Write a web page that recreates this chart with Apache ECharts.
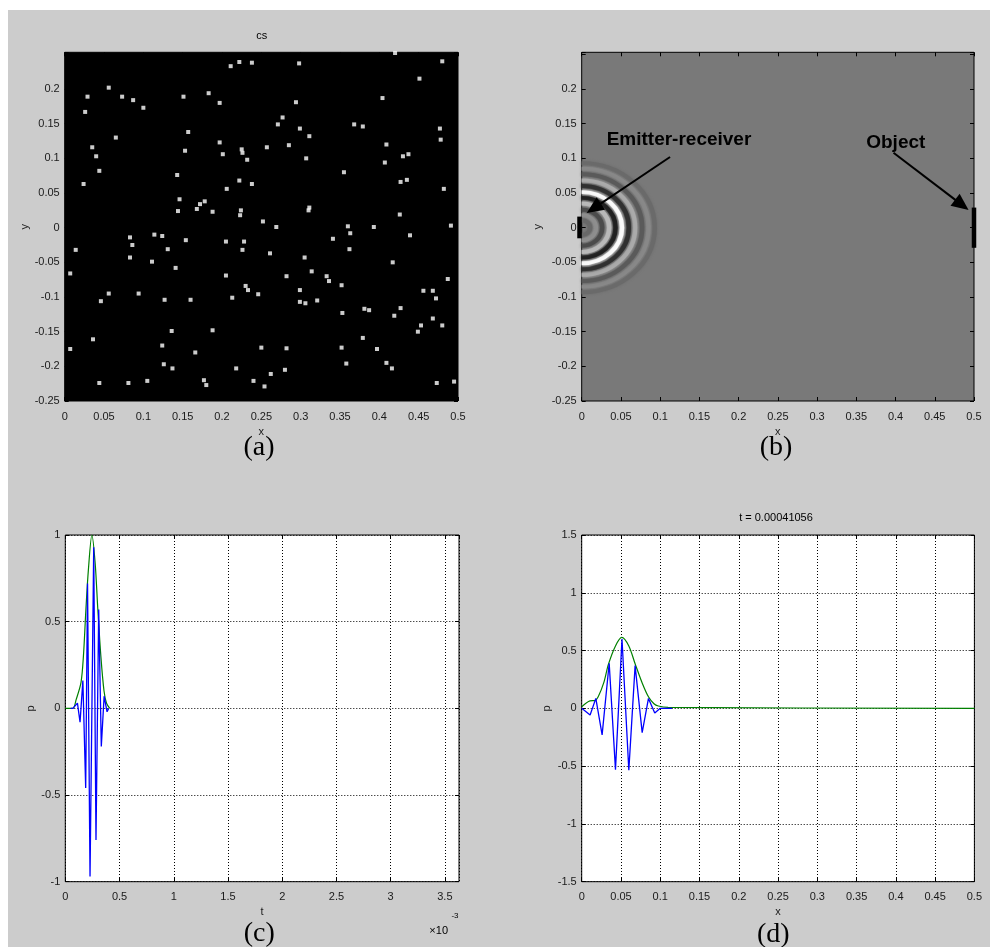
<!DOCTYPE html>
<html><head><meta charset="utf-8">
<script src="https://cdn.jsdelivr.net/npm/echarts@6/dist/echarts.min.js"></script>
<style>
html,body{margin:0;padding:0;background:#fff;}
#bg{position:absolute;left:8px;top:10px;width:982px;height:937px;background:#cccccc;}
#chart{position:absolute;left:0;top:0;width:990px;height:947px;}
</style></head><body><div id="bg"></div><div id="chart"></div>
<script>
// ---- (a) scatter "cs" ----
const scatterX = [
0.420,0.480,0.211,0.222,0.238,0.298,0.451,0.056,0.029,0.073,
0.087,0.151,0.183,0.197,0.294,0.100,0.404,0.026,0.277,0.271,
0.368,0.379,0.299,0.477,0.065,0.157,0.311,0.478,0.035,0.197,
0.257,0.285,0.409,0.225,0.226,0.153,0.040,0.201,0.232,0.307,
0.430,0.437,0.407,0.044,0.355,0.143,0.024,0.222,0.238,0.427,
0.435,0.206,0.482,0.146,0.172,0.178,0.168,0.144,0.188,0.224,
0.223,0.311,0.310,0.426,0.252,0.269,0.360,0.393,0.491,0.363,
0.114,0.124,0.083,0.154,0.341,0.439,0.205,0.228,0.086,0.014,
0.131,0.226,0.362,0.261,0.083,0.305,0.111,0.417,0.141,0.007,
0.314,0.205,0.282,0.333,0.336,0.487,0.230,0.233,0.352,0.299,
0.456,0.468,0.056,0.094,0.246,0.213,0.472,0.046,0.127,0.160,
0.299,0.306,0.321,0.381,0.387,0.427,0.353,0.419,0.136,0.188,
0.453,0.449,0.480,0.036,0.379,0.468,0.124,0.007,0.166,0.250,
0.282,0.352,0.397,0.126,0.137,0.218,0.280,0.358,0.409,0.416,
0.262,0.044,0.081,0.105,0.177,0.180,0.240,0.254,0.473,0.495];
const scatterY = [
0.252,0.240,0.233,0.239,0.238,0.237,0.215,0.202,0.189,0.189,
0.184,0.189,0.194,0.180,0.181,0.173,0.187,0.167,0.159,0.149,
0.149,0.146,0.143,0.143,0.130,0.138,0.132,0.127,0.116,0.123,
0.116,0.119,0.120,0.113,0.108,0.111,0.103,0.106,0.098,0.100,
0.103,0.106,0.094,0.082,0.080,0.076,0.063,0.068,0.063,0.066,
0.069,0.056,0.056,0.041,0.034,0.038,0.027,0.024,0.023,0.025,
0.018,0.029,0.025,0.019,0.009,0.001,0.002,0.001,0.003,-0.008,
-0.010,-0.012,-0.014,-0.018,-0.016,-0.011,-0.020,-0.020,-0.025,-0.032,
-0.031,-0.032,-0.031,-0.037,-0.043,-0.043,-0.049,-0.050,-0.058,-0.066,
-0.063,-0.069,-0.070,-0.070,-0.077,-0.074,-0.084,-0.090,-0.083,-0.090,
-0.091,-0.091,-0.095,-0.095,-0.096,-0.101,-0.102,-0.106,-0.104,-0.104,
-0.107,-0.109,-0.105,-0.117,-0.119,-0.116,-0.123,-0.127,-0.149,-0.148,
-0.141,-0.150,-0.141,-0.161,-0.159,-0.131,-0.170,-0.175,-0.180,-0.173,
-0.174,-0.173,-0.175,-0.197,-0.203,-0.203,-0.205,-0.196,-0.195,-0.203,
-0.211,-0.224,-0.224,-0.221,-0.220,-0.227,-0.221,-0.229,-0.224,-0.222];

// ---- (b) wave field rings (radius, gray level) and annotations ----
const ringRadius = [0.093,0.085,0.077,0.068,0.060,0.0513,0.043,0.035,0.026,0.018,0.0107];
const ringShade  = [106,136,90,170,48,250,32,185,75,142,104];
const barX  = [-0.0028, 0.5];
const barY0 = [-0.0153, -0.029];
const barY1 = [0.016, 0.029];
const annoText = ['Emitter-receiver', 'Object'];
const annoX = [0.124, 0.4003];
const annoY = [0.1266, 0.1227];
const arrowFrom = [[0.1126, 0.102], [0.3974, 0.1082]];
const arrowTo   = [[0.0064, 0.0212], [0.4931, 0.0255]];

// ---- (c) p(t), t in units of 1e-3 ----
const cBlueT = [0.05,0.07,0.085,0.112,0.136,0.162,0.188,0.205,0.228,0.262,0.283,0.308,0.332,0.358,0.385,0.40];
const cBlueP = [0,0,0.01,0.03,-0.08,0.16,-0.46,0.72,-0.97,0.93,-0.76,0.57,-0.22,0.07,-0.02,0];
const cGreenT = [0,0.07,0.1,0.145,0.167,0.19,0.213,0.245,0.275,0.3,0.328,0.357,0.38,0.41];
const cGreenP = [0,0,0.05,0.15,0.3,0.57,0.8,1.0,0.84,0.57,0.3,0.1,0.03,0];

// ---- (d) p(x) at t = 0.00041056 ----
const dBlueX = [0,0.0107,0.018,0.026,0.035,0.043,0.0513,0.060,0.068,0.077,0.085,0.093,0.1,0.115];
const dBlueP = [0,-0.057,0.086,-0.23,0.39,-0.53,0.60,-0.535,0.37,-0.21,0.086,-0.04,0,0];
const dGreenX = [0,0.0106,0.017,0.021,0.028,0.034,0.043,0.051,0.060,0.068,0.077,0.085,0.092,0.0975,0.11,0.5];
const dGreenP = [0.014,0.065,0.068,0.1,0.22,0.38,0.54,0.614,0.54,0.386,0.22,0.1,0.04,0.02,0.008,0];

const FONT = '"Liberation Sans", Arial, sans-serif';
const LBL = {fontSize: 11, color: '#1a1a1a', fontFamily: FONT};
const pairs = (a, b) => a.map((v, i) => [v, b[i]]);
const fmt = v => String(+(+v).toFixed(4));
const TICK = {show: true, inside: true, length: 4, lineStyle: {color: '#000'}};

function xAxes(gi, min, max, interval, name, gap, o) {
  o = o || {};
  return [{
    type: 'value', gridIndex: gi, position: 'bottom', min, max, interval,
    name, nameLocation: 'middle', nameGap: gap, nameTextStyle: Object.assign({}, LBL),
    axisLine: {show: false, onZero: false}, axisTick: TICK,
    axisLabel: Object.assign({}, LBL, {margin: 10, showMaxLabel: o.showMax !== false, showMinLabel: true, formatter: o.fmt || fmt}),
    splitLine: {show: !!o.grid, lineStyle: {color: '#000', width: 1, type: [1, 2]}}
  }, {
    type: 'value', gridIndex: gi, position: 'top', min, max, interval,
    axisLine: {show: false, onZero: false}, axisTick: TICK,
    axisLabel: {show: false}, splitLine: {show: false}
  }];
}
function yAxes(gi, min, max, interval, name, gap, o) {
  o = o || {};
  return [{
    type: 'value', gridIndex: gi, position: 'left', min, max, interval,
    name, nameLocation: 'middle', nameGap: gap, nameTextStyle: Object.assign({}, LBL),
    axisLine: {show: false, onZero: false}, axisTick: TICK,
    axisLabel: Object.assign({}, LBL, {margin: 5, showMinLabel: true, formatter: o.fmt || fmt}),
    splitLine: {show: !!o.grid, lineStyle: {color: '#000', width: 1, type: [1, 2]}}
  }, {
    type: 'value', gridIndex: gi, position: 'right', min, max, interval,
    axisLine: {show: false, onZero: false}, axisTick: TICK,
    axisLabel: {show: false}, splitLine: {show: false}
  }];
}
const fmtY25 = v => (v > 0.21 ? '' : fmt(v));
const fmtC = v => (Math.abs(v * 2 - Math.round(v * 2)) > 1e-6 ? '' : fmt(v));

const chart = echarts.init(document.getElementById('chart'), null, {renderer: 'canvas'});
function txt(x, y, text, font) {
  return {
    type: 'text', x, y, silent: true,
    style: {text, font, fill: '#000', align: 'center', verticalAlign: 'middle', textAlign: 'center', textVerticalAlign: 'middle'}
  };
}

const option = {
  animation: false,
  backgroundColor: 'transparent',
  grid: [
    {left: 64.7, top: 52.3, width: 393.3, height: 348.7, show: true, backgroundColor: '#000', borderColor: '#000', borderWidth: 1, outerBoundsMode: 'none'},
    {left: 581.7, top: 52.3, width: 392.3, height: 348.7, show: true, backgroundColor: '#797979', borderColor: '#000', borderWidth: 1, outerBoundsMode: 'none'},
    {left: 65.3, top: 535, width: 393.7, height: 346.7, show: true, backgroundColor: '#fff', borderColor: '#000', borderWidth: 1, outerBoundsMode: 'none'},
    {left: 581.7, top: 535, width: 392.7, height: 346.7, show: true, backgroundColor: '#fff', borderColor: '#000', borderWidth: 1, outerBoundsMode: 'none'}
  ],
  xAxis: [].concat(
    xAxes(0, 0, 0.5, 0.05, 'x', 25),
    xAxes(1, 0, 0.5, 0.05, 'x', 25),
    xAxes(2, 0, 3.63, 0.5, 't', 25, {grid: true, showMax: false, fmt: fmtC}),
    xAxes(3, 0, 0.5, 0.05, 'x', 25, {grid: true})
  ),
  yAxis: [].concat(
    yAxes(0, -0.25, 0.253, 0.05, 'y', 34, {fmt: fmtY25}),
    yAxes(1, -0.25, 0.253, 0.05, 'y', 38, {fmt: fmtY25}),
    yAxes(2, -1, 1, 0.5, 'p', 29, {grid: true}),
    yAxes(3, -1.5, 1.5, 0.5, 'p', 29, {grid: true})
  ),
  series: [
    {type: 'scatter', xAxisIndex: 0, yAxisIndex: 0, data: pairs(scatterX, scatterY),
     symbol: 'rect', symbolSize: 4, itemStyle: {color: '#fff'}, silent: true},
    {type: 'custom', xAxisIndex: 2, yAxisIndex: 2, silent: true,
     data: ringRadius.map((r, i) => [r, 0, ringShade[i]]),
     encode: {x: 0, y: 1},
     renderItem: function (params, api) {
       const r = api.value(0), g = Math.round(api.value(2));
       const c = api.coord([0, 0]);
       const s = api.size([r, r]);
       const col = 'rgb(' + g + ',' + g + ',' + g + ')';
       return {type: 'arc', x: c[0], y: c[1], scaleY: s[1] / s[0],
         shape: {cx: 0, cy: 0, r: s[0], startAngle: -Math.PI / 2, endAngle: Math.PI / 2, clockwise: true},
         style: {stroke: col, fill: null, lineWidth: 4.5, shadowBlur: 3, shadowColor: col}};
     }},
    {type: 'custom', xAxisIndex: 2, yAxisIndex: 2, silent: true,
     data: barX.map((x, i) => [x, barY0[i], barY1[i]]),
     encode: {x: 0, y: [1, 2]},
     renderItem: function (params, api) {
       const p0 = api.coord([api.value(0), api.value(2)]);
       const p1 = api.coord([api.value(0), api.value(1)]);
       return {type: 'rect', shape: {x: p0[0] - 2.25, y: p0[1], width: 4.5, height: p1[1] - p0[1]}, style: {fill: '#000'}};
     }},
    {type: 'custom', xAxisIndex: 2, yAxisIndex: 2, silent: true,
     data: arrowFrom.map((f, i) => [f[0], f[1], arrowTo[i][0], arrowTo[i][1]]),
     encode: {x: [0, 2], y: [1, 3]},
     renderItem: function (params, api) {
       const a = api.coord([api.value(0), api.value(1)]);
       const b = api.coord([api.value(2), api.value(3)]);
       const dx = b[0] - a[0], dy = b[1] - a[1], L = Math.hypot(dx, dy);
       const ux = dx / L, uy = dy / L, hl = 17, hw = 7.5;
       const base = [b[0] - ux * hl, b[1] - uy * hl];
       return {type: 'group', children: [
         {type: 'line', shape: {x1: a[0], y1: a[1], x2: base[0] + ux * 2, y2: base[1] + uy * 2}, style: {stroke: '#000', lineWidth: 2}},
         {type: 'polygon', shape: {points: [b, [base[0] - uy * hw, base[1] + ux * hw], [base[0] + uy * hw, base[1] - ux * hw]]}, style: {fill: '#000'}}
       ]};
     }},
    {type: 'custom', xAxisIndex: 2, yAxisIndex: 2, silent: true,
     data: annoText.map((t, i) => ({name: t, value: [annoX[i], annoY[i]]})),
     encode: {x: 0, y: 1},
     renderItem: function (params, api) {
       const p = api.coord([api.value(0), api.value(1)]);
       return {type: 'text', x: p[0], y: p[1],
         style: {text: annoText[params.dataIndex], font: 'bold 19px ' + FONT, fill: '#000',
           align: 'center', verticalAlign: 'middle', textAlign: 'center', textVerticalAlign: 'middle'}};
     }},
    {type: 'line', xAxisIndex: 4, yAxisIndex: 4, data: pairs(cGreenT, cGreenP), showSymbol: false, smooth: 0.3,
     lineStyle: {color: '#008000', width: 1.2}, silent: true},
    {type: 'line', xAxisIndex: 4, yAxisIndex: 4, data: pairs(cBlueT, cBlueP), showSymbol: false,
     lineStyle: {color: '#0000ff', width: 1.3}, silent: true},
    {type: 'line', xAxisIndex: 6, yAxisIndex: 6, data: pairs(dGreenX, dGreenP), showSymbol: false, smooth: 0.3,
     lineStyle: {color: '#008000', width: 1.2}, silent: true},
    {type: 'line', xAxisIndex: 6, yAxisIndex: 6, data: pairs(dBlueX, dBlueP), showSymbol: false,
     lineStyle: {color: '#0000ff', width: 1.3}, silent: true}
  ],
  graphic: [
    txt(261.7, 36, 'cs', '11px ' + FONT),
    txt(776, 517.7, 't = 0.00041056', '11px ' + FONT),
    txt(259, 448, '(a)', '28px "Liberation Serif", serif'),
    txt(776, 448, '(b)', '28px "Liberation Serif", serif'),
    txt(259.3, 933.5, '(c)', '28px "Liberation Serif", serif'),
    txt(773.3, 935, '(d)', '28px "Liberation Serif", serif'),
    txt(438.7, 931, '×10', '11px ' + FONT),
    txt(455, 916, '-3', '8px ' + FONT)
  ]
};
chart.setOption(option);
</script>
</body></html>
